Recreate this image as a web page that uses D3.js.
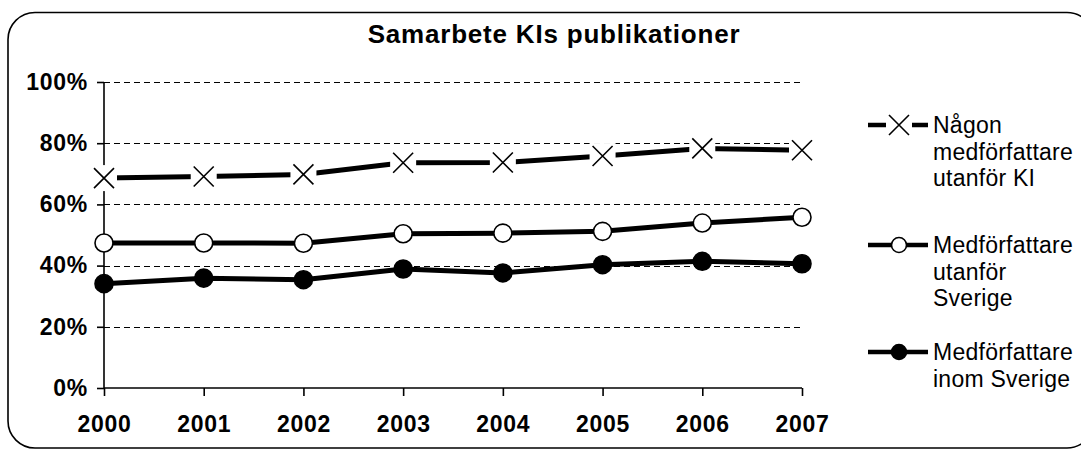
<!DOCTYPE html>
<html>
<head>
<meta charset="utf-8">
<script src="https://cdn.jsdelivr.net/npm/d3@7"></script>
<style>
  body { margin: 0; background: #fff; }
  svg { display: block; font-family: "Liberation Sans", Arial, sans-serif; }
</style>
</head>
<body>
<div id="chart"></div>
<script>
const years = ['2000', '2001', '2002', '2003', '2004', '2005', '2006', '2007']
const nagon = [68.6, 69.1, 69.8, 73.6, 73.7, 75.8, 78.3, 77.7]
const utanforSverige = [47.4, 47.4, 47.3, 50.4, 50.6, 51.2, 53.9, 55.8]
const inomSverige = [34.1, 35.9, 35.4, 38.9, 37.6, 40.3, 41.4, 40.6]
const yTicks = [0, 20, 40, 60, 80, 100]
const seriesNames = [
  ['Någon', 'medförfattare', 'utanför KI'],
  ['Medförfattare', 'utanför', 'Sverige'],
  ['Medförfattare', 'inom Sverige']
]
const title = 'Samarbete KIs publikationer'

const width = 1081
const height = 450

const svg = d3.select('#chart').append('svg')
              .attr('width', width)
              .attr('height', height)

// frame (right side runs off the picture)
svg.append('rect')
   .attr('x', 8).attr('y', 12.5)
   .attr('width', 1086).attr('height', 435.5)
   .attr('rx', 27)
   .attr('fill', 'none')
   .attr('stroke', '#000')
   .attr('stroke-width', 1.6)

svg.append('text')
   .attr('x', 554).attr('y', 43)
   .attr('text-anchor', 'middle')
   .attr('font-size', 26)
   .attr('font-weight', 'bold')
   .attr('letter-spacing', 0.8)
   .text(title)

const x = d3.scalePoint().domain(years).range([104, 802])
const y = d3.scaleLinear().domain([0, 100]).range([388, 82])

// gridlines
svg.append('g')
   .selectAll('line')
   .data(yTicks.filter(d => d > 0))
   .join('line')
   .attr('x1', 104).attr('x2', 802)
   .attr('y1', d => Math.round(y(d)) + 0.5).attr('y2', d => Math.round(y(d)) + 0.5)
   .attr('stroke', '#000')
   .attr('stroke-width', 1)
   .attr('stroke-dasharray', '6,4')
   .attr('shape-rendering', 'crispEdges')

// axes
const yAxis = svg.append('g')
   .attr('transform', 'translate(104,0)')
   .call(d3.axisLeft(y).tickValues(yTicks).tickSize(7).tickPadding(9).tickFormat(d => d + '%'))
const xAxis = svg.append('g')
   .attr('transform', 'translate(0,388)')
   .call(d3.axisBottom(x).tickSize(8).tickPadding(20))

;[yAxis, xAxis].forEach(g => {
  g.select('.domain').attr('stroke', '#000').attr('stroke-width', 1.6)
  g.selectAll('.tick line').attr('stroke', '#000').attr('stroke-width', 1.6)
  g.selectAll('.tick text')
   .attr('fill', '#000')
   .attr('font-size', 23)
   .attr('font-weight', 'bold')
   .attr('letter-spacing', 0.7)
   .attr('font-family', '"Liberation Sans", Arial, sans-serif')
})
xAxis.select('.domain').attr('d', 'M104,0H802')
yAxis.select('.domain').attr('d', 'M0,' + y(100) + 'V' + y(0))

const series = [
  { name: seriesNames[0], values: nagon, marker: 'x' },
  { name: seriesNames[1], values: utanforSverige, marker: 'open' },
  { name: seriesNames[2], values: inomSverige, marker: 'filled' }
]

const line = d3.line()
  .x((d, i) => x(years[i]))
  .y(d => y(d))

function drawMarker(g, type, cx, cy, size) {
  if (type === 'x') {
    g.append('rect')
     .attr('x', cx - 13).attr('y', cy - 13)
     .attr('width', 26).attr('height', 26)
     .attr('fill', '#fff')
    g.append('path')
     .attr('d', `M${cx - size},${cy - size}L${cx + size},${cy + size}M${cx - size},${cy + size}L${cx + size},${cy - size}`)
     .attr('stroke', '#000')
     .attr('stroke-width', 1.6)
  } else {
    g.append('circle')
     .attr('cx', cx).attr('cy', cy)
     .attr('r', size)
     .attr('fill', type === 'open' ? '#fff' : '#000')
     .attr('stroke', '#000')
     .attr('stroke-width', 1.6)
  }
}

series.forEach(s => {
  svg.append('path')
     .datum(s.values)
     .attr('d', line)
     .attr('fill', 'none')
     .attr('stroke', '#000')
     .attr('stroke-width', 5)
     .attr('stroke-linejoin', 'round')
  const g = svg.append('g')
  s.values.forEach((v, i) => {
    drawMarker(g, s.marker, x(years[i]), y(v), s.marker === 'x' ? 10 : 9)
  })
})

// legend
const legendY = [125, 245, 352]
const legend = svg.append('g')
series.forEach((s, k) => {
  const ly = legendY[k]
  legend.append('line')
        .attr('x1', 868).attr('x2', 928)
        .attr('y1', ly).attr('y2', ly)
        .attr('stroke', '#000')
        .attr('stroke-width', 4.5)
  drawMarker(legend, s.marker, 899, ly, s.marker === 'x' ? 10 : 7.5)
  legend.append('text')
        .attr('x', 933)
        .attr('y', ly + 8.3)
        .attr('font-size', 23)
        .attr('letter-spacing', 0.25)
        .selectAll('tspan')
        .data(s.name)
        .join('tspan')
        .attr('x', 933)
        .attr('dy', (d, i) => i === 0 ? 0 : 26.3)
        .text(d => d)
})
</script>
</body>
</html>
